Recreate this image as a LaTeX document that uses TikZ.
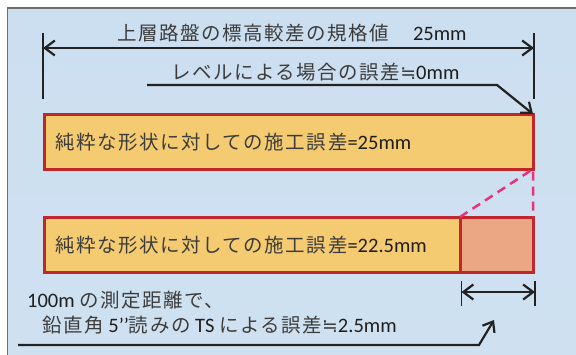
\documentclass[tikz,border=0pt]{standalone}
\usepackage{fontspec}
\setmainfont{Carlito}
\newfontfamily\jp[Scale=0.95,LetterSpace=8]{Noto Sans CJK JP}
\newfontfamily\symf[Scale=0.92]{DejaVu Sans}
\usetikzlibrary{arrows.meta}
\definecolor{barfill}{HTML}{F5CB72}
\definecolor{barred}{HTML}{BF272D}
\definecolor{salmonfill}{HTML}{EBA783}
\definecolor{pinkdash}{HTML}{E8337A}
\definecolor{bgtop}{HTML}{CCDFF0}
\definecolor{bgmid}{HTML}{E6EDF6}
\definecolor{bgbot}{HTML}{CFE1F1}
\definecolor{framegray}{HTML}{6E6E6E}
\definecolor{jptext}{HTML}{3C3C3C}
\definecolor{lntext}{HTML}{1E1E1E}
\definecolor{ink}{HTML}{222222}
\newcommand{\nearlyeq}{{\color{jptext}\symf ≒}}
\begin{document}
\begin{tikzpicture}[x=1pt,y=-1pt,
  barbox/.style={draw=barred,line width=3pt,minimum height=55pt,inner sep=0pt,outer sep=0pt},
  lbl/.style={anchor=base west,inner sep=0pt,text=lntext,font=\fontsize{20.5}{23}\selectfont},
  dimtick/.style={draw=ink,line width=1.4pt},
  dimline/.style={draw=ink,line width=2.2pt,{Straight Barb[length=10pt,width=15pt]}-{Straight Barb[length=10pt,width=15pt]}},
  callout/.style={draw=ink,line width=2.2pt,-{Straight Barb[length=9pt,width=14pt]},line join=miter},
  pinkline/.style={draw=pinkdash,line width=2.5pt,dash pattern=on 9pt off 6pt}
]
\useasboundingbox (0,0) rectangle (576,354);
\clip (0,0) rectangle (576,354);
\fill[white] (0,0) rectangle (576,354);
\shade[top color=bgtop,middle color=bgmid,bottom color=bgbot] (7.5,8) rectangle (600,380);
\draw[framegray,line width=1.2pt] (7.5,400) -- (7.5,8) -- (600,8);

% top dimension
\coordinate (tl1) at (43,33);
\coordinate (tl2) at (43,99);
\coordinate (tr1) at (534,33);
\coordinate (tr2) at (534,99);
\coordinate (dl) at (43,48);
\coordinate (dr) at (534,48);
\draw[dimtick] (tl1) -- (tl2);
\draw[dimtick] (tr1) -- (tr2);
\draw[dimline] (dl) -- (dr);

\node[lbl] (title) at (117,40) {{\color{jptext}\jp 上層路盤の標高較差の規格値}\hspace{24pt}25mm};
\node[lbl] (level) at (171,79) {{\color{jptext}\jp レベルによる場合の誤差}\nearlyeq 0mm};

% bars
\node[barbox,fill=barfill,minimum width=489pt] (bar1) at (288.5,141.5) {};
\node[barbox,fill=barfill,minimum width=416pt] (bar2) at (252,244.5) {};
\node[barbox,fill=salmonfill,minimum width=73pt] (bar3) at (496.5,244.5) {};

\node[lbl] (t1) at (55,149) {{\color{jptext}\jp 純粋な形状に対しての施工誤差}=25mm};
\node[lbl] (t2) at (55,252) {{\color{jptext}\jp 純粋な形状に対しての施工誤差}=22.5mm};

% dashed error
\draw[pinkline] (bar3.north west) -- (bar1.south east) -- (bar3.north east);

% callout 1
\coordinate (c1a) at (147,85);
\coordinate (c1b) at (497,85);
\draw[callout] (c1a) -- (c1b) -- (bar1.north east);

% small dimension
\coordinate (sl1) at (461.5,281);
\coordinate (sl2) at (461.5,306);
\coordinate (sr1) at (535,281);
\coordinate (sr2) at (535,306);
\coordinate (sdl) at (461.5,292);
\coordinate (sdr) at (535,292);
\draw[dimtick] (sl1) -- (sl2);
\draw[dimtick] (sr1) -- (sr2);
\draw[dimline] (sdl) -- (sdr);

\node[lbl] (b1) at (27,307) {100m {\color{jptext}\jp の測定距離で、}};
\node[lbl] (b2) at (42,332) {{\color{jptext}\jp 鉛直角} 5’’{\color{jptext}\jp 読みの} TS {\color{jptext}\jp による誤差}\nearlyeq 2.5mm};

% callout 2
\coordinate (c2a) at (18,345);
\coordinate (c2b) at (479,345);
\coordinate (c2c) at (494,320);
\draw[callout] (c2a) -- (c2b) -- (c2c);
\end{tikzpicture}
\end{document}
